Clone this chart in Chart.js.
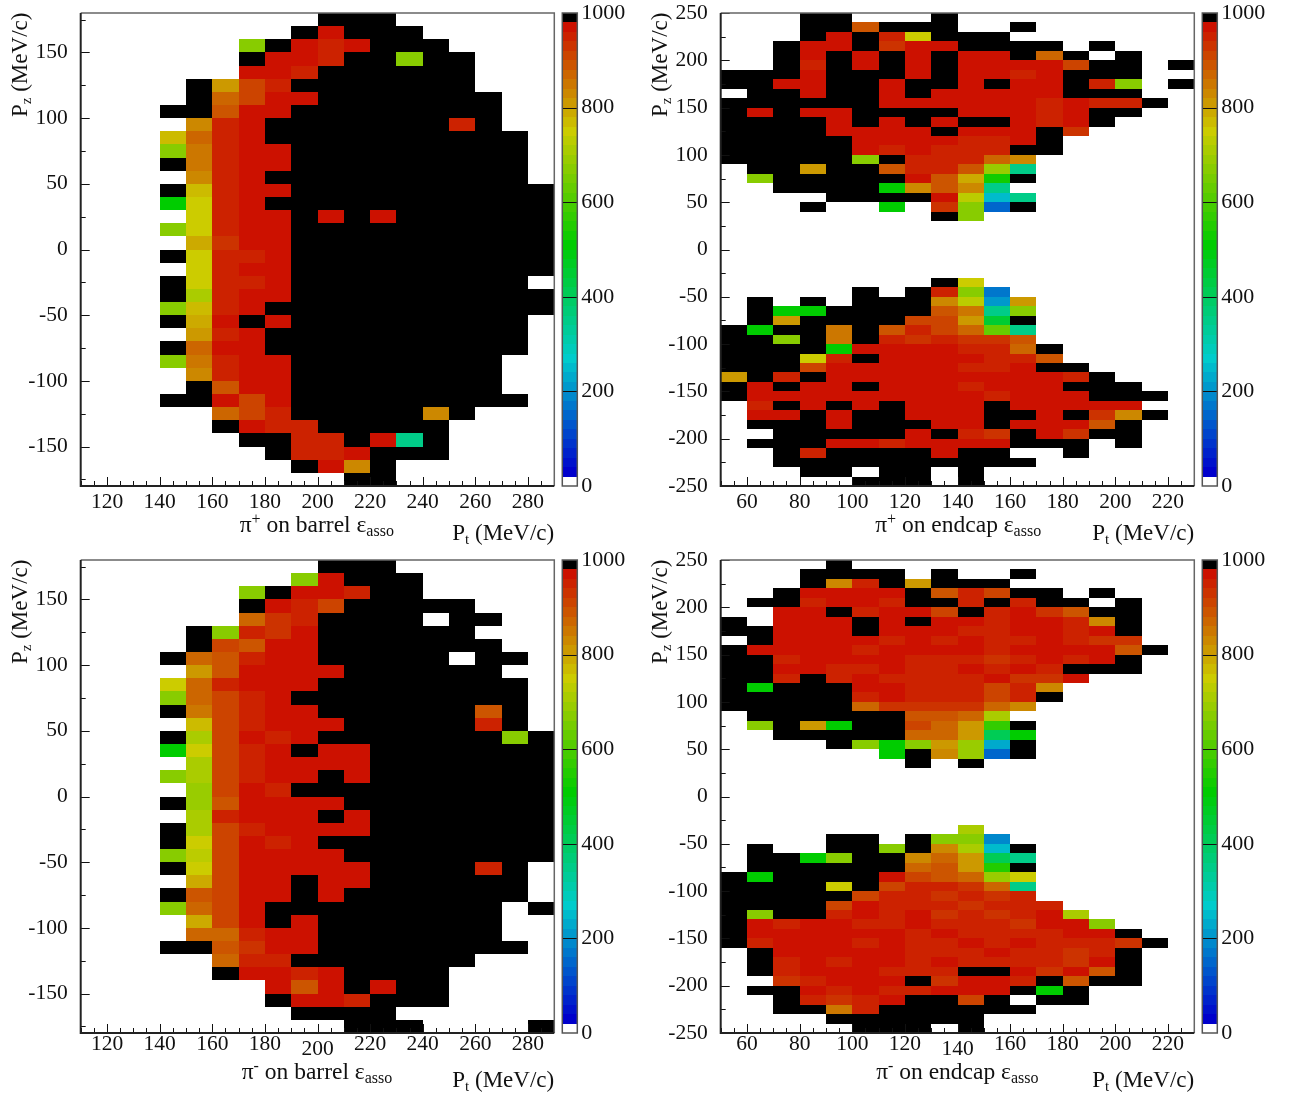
<!DOCTYPE html>
<html>
<head>
<meta charset="utf-8">
<title>Pion association efficiency</title>
<script src="https://cdn.jsdelivr.net/npm/chart.js@4/dist/chart.umd.js"></script>
<style>
    html, body { margin: 0; padding: 0; background: #fff; overflow: hidden; }
    canvas { position: absolute; }
</style>
</head>
<body>
<canvas id="pi-plus-barrel" width="645" height="548" style="left:0;top:0"></canvas>
<canvas id="pi-plus-endcap" width="650" height="548" style="left:640px;top:0"></canvas>
<canvas id="pi-minus-barrel" width="645" height="548" style="left:0;top:547px"></canvas>
<canvas id="pi-minus-endcap" width="650" height="548" style="left:640px;top:547px"></canvas>
<script>
const _ = null;
const K = 1000;

// x bin edges start here, bins are 10 MeV/c wide. rows go from top (high Pz) to bottom
const barrelPtStart = 110;
const barrelPzTop = 180;
const endcapPtStart = 50;
const endcapPzTop = 250;
const barrelPtTicks = [120, 140, 160, 180, 200, 220, 240, 260, 280];
const endcapPtTicks = [60, 80, 100, 120, 140, 160, 180, 200, 220];
const zTickValues = [0, 200, 400, 600, 800, 1000];

const piPlusBarrel = [
    [_,_,_,_,_,_,_,_,_,K,K,K,_,_,_,_,_,_],
    [_,_,_,_,_,_,_,_,K,970,K,K,K,_,_,_,_,_],
    [_,_,_,_,_,_,670,K,970,950,970,K,K,K,_,_,_,_],
    [_,_,_,_,_,_,K,970,970,950,K,K,670,K,K,_,_,_],
    [_,_,_,_,_,_,970,970,950,K,K,K,K,K,K,_,_,_],
    [_,_,_,_,K,810,910,950,K,K,K,K,K,K,K,_,_,_],
    [_,_,_,_,K,870,910,970,970,K,K,K,K,K,K,K,_,_],
    [_,_,_,K,K,890,970,970,K,K,K,K,K,K,K,K,_,_],
    [_,_,_,_,830,950,970,K,K,K,K,K,K,K,950,K,_,_],
    [_,_,_,770,870,950,970,K,K,K,K,K,K,K,K,K,K,_],
    [_,_,_,670,850,950,970,970,K,K,K,K,K,K,K,K,K,_],
    [_,_,_,K,850,950,970,970,K,K,K,K,K,K,K,K,K,_],
    [_,_,_,_,830,950,970,K,K,K,K,K,K,K,K,K,K,_],
    [_,_,_,K,770,950,970,970,K,K,K,K,K,K,K,K,K,K],
    [_,_,_,510,750,950,970,K,K,K,K,K,K,K,K,K,K,K],
    [_,_,_,_,750,950,970,970,K,970,K,970,K,K,K,K,K,K],
    [_,_,_,670,750,950,970,970,K,K,K,K,K,K,K,K,K,K],
    [_,_,_,_,790,930,970,970,K,K,K,K,K,K,K,K,K,K],
    [_,_,_,K,750,950,950,970,K,K,K,K,K,K,K,K,K,K],
    [_,_,_,_,750,950,970,970,K,K,K,K,K,K,K,K,K,K],
    [_,_,_,K,750,950,950,970,K,K,K,K,K,K,K,K,K,_],
    [_,_,_,K,710,950,970,970,K,K,K,K,K,K,K,K,K,K],
    [_,_,_,670,770,950,970,K,K,K,K,K,K,K,K,K,K,K],
    [_,_,_,K,790,970,K,970,K,K,K,K,K,K,K,K,K,_],
    [_,_,_,_,810,950,970,K,K,K,K,K,K,K,K,K,K,_],
    [_,_,_,K,870,970,970,K,K,K,K,K,K,K,K,K,K,_],
    [_,_,_,670,850,950,970,970,K,K,K,K,K,K,K,K,_,_],
    [_,_,_,_,830,950,970,970,K,K,K,K,K,K,K,K,_,_],
    [_,_,_,_,K,890,970,970,K,K,K,K,K,K,K,K,_,_],
    [_,_,_,K,K,970,910,970,K,K,K,K,K,K,K,K,K,_],
    [_,_,_,_,_,870,910,950,K,K,K,K,K,830,K,_,_,_],
    [_,_,_,_,_,K,970,950,950,K,K,K,K,K,_,_,_,_],
    [_,_,_,_,_,_,K,K,950,950,K,970,350,K,_,_,_,_],
    [_,_,_,_,_,_,_,K,950,950,970,K,K,K,_,_,_,_],
    [_,_,_,_,_,_,_,_,K,970,830,K,_,_,_,_,_,_],
    [_,_,_,_,_,_,_,_,_,_,K,K,_,_,_,_,_,_]
];

const piMinusBarrel = [
    [_,_,_,_,_,_,_,_,_,K,K,K,_,_,_,_,_,_],
    [_,_,_,_,_,_,_,_,670,970,K,K,K,_,_,_,_,_],
    [_,_,_,_,_,_,670,K,970,970,950,K,K,_,_,_,_,_],
    [_,_,_,_,_,_,K,970,950,910,K,K,K,K,K,_,_,_],
    [_,_,_,_,_,_,870,930,950,K,K,K,K,_,K,K,_,_],
    [_,_,_,_,K,670,950,930,970,K,K,K,K,K,K,_,_,_],
    [_,_,_,_,K,910,890,970,970,K,K,K,K,K,K,K,_,_],
    [_,_,_,K,870,890,950,970,970,K,K,K,K,K,_,K,K,_],
    [_,_,_,_,810,890,970,970,970,970,K,K,K,K,K,K,_,_],
    [_,_,_,750,870,950,970,970,970,K,K,K,K,K,K,K,K,_],
    [_,_,_,670,870,910,950,970,K,K,K,K,K,K,K,K,K,_],
    [_,_,_,K,850,910,950,970,970,K,K,K,K,K,K,890,K,_],
    [_,_,_,_,770,910,950,970,970,970,K,K,K,K,K,950,K,_],
    [_,_,_,K,710,910,970,950,970,K,K,K,K,K,K,K,670,K],
    [_,_,_,510,750,910,950,970,K,970,970,K,K,K,K,K,K,K],
    [_,_,_,_,710,910,950,970,970,970,970,K,K,K,K,K,K,K],
    [_,_,_,670,710,910,950,970,970,K,970,K,K,K,K,K,K,K],
    [_,_,_,_,690,910,970,950,K,K,K,K,K,K,K,K,K,K],
    [_,_,_,K,690,890,970,970,970,970,K,K,K,K,K,K,K,K],
    [_,_,_,_,710,950,970,970,970,K,970,K,K,K,K,K,K,K],
    [_,_,_,K,710,910,950,970,970,970,970,K,K,K,K,K,K,K],
    [_,_,_,K,750,910,970,950,970,K,K,K,K,K,K,K,K,K],
    [_,_,_,670,730,910,970,970,970,970,K,K,K,K,K,K,K,K],
    [_,_,_,K,750,910,970,970,970,970,970,K,K,K,K,950,K,_],
    [_,_,_,_,790,910,970,970,K,970,970,K,K,K,K,K,K,_],
    [_,_,_,K,890,910,970,970,K,970,K,K,K,K,K,K,K,_],
    [_,_,_,670,870,910,970,K,K,K,K,K,K,K,K,K,_,K],
    [_,_,_,_,790,910,970,K,970,K,K,K,K,K,K,K,_,_],
    [_,_,_,_,870,870,950,970,970,K,K,K,K,K,K,K,_,_],
    [_,_,_,K,K,890,930,970,970,K,K,K,K,K,K,K,K,_],
    [_,_,_,_,_,870,950,950,K,K,K,K,K,K,K,_,_,_],
    [_,_,_,_,_,K,970,970,950,970,K,K,K,K,_,_,_,_],
    [_,_,_,_,_,_,_,970,890,970,K,970,K,K,_,_,_,_],
    [_,_,_,_,_,_,_,K,970,970,950,K,K,K,_,_,_,_],
    [_,_,_,_,_,_,_,_,K,K,K,K,_,_,_,_,_,_],
    [_,_,_,_,_,_,_,_,_,_,K,K,K,_,_,_,_,K]
];

const piPlusEndcap = [
    [_,_,_,K,K,_,_,_,K,_,_,_,_,_,_,_,_,_],
    [_,_,_,K,K,890,K,K,K,_,_,K,_,_,_,_,_,_],
    [_,_,_,K,970,K,950,750,K,K,K,_,_,_,_,_,_,_],
    [_,_,K,970,970,K,930,970,970,K,K,K,K,_,K,_,_,_],
    [_,_,K,970,K,970,K,970,K,970,970,K,870,K,_,K,_,_],
    [_,_,K,950,K,970,K,970,K,970,970,970,970,910,K,K,_,K],
    [K,K,K,970,K,K,K,970,K,970,970,950,970,K,K,K,_,_],
    [K,K,970,970,K,K,970,K,K,970,K,970,970,K,950,670,_,K],
    [_,K,K,970,K,K,970,K,970,970,970,970,970,K,K,K,_,_],
    [K,K,K,K,K,K,970,970,970,970,970,970,950,970,950,950,K,_],
    [K,970,K,970,970,K,K,K,K,970,970,970,950,970,K,K,_,_],
    [K,K,K,K,970,K,970,K,970,K,K,970,950,970,K,_,_,_],
    [K,K,K,K,970,970,970,970,K,970,970,970,K,930,_,_,_,_],
    [K,K,K,K,K,970,970,970,970,950,950,970,K,_,_,_,_,_],
    [K,K,K,K,K,970,950,970,950,950,950,K,K,_,_,_,_,_],
    [K,K,K,K,K,670,K,950,950,950,870,830,_,_,_,_,_,_],
    [_,K,K,810,K,K,890,950,950,890,690,350,_,_,_,_,_,_],
    [_,670,K,K,K,K,K,970,890,790,530,K,_,_,_,_,_,_],
    [_,_,K,K,K,K,510,830,890,830,350,_,_,_,_,_,_,_],
    [_,_,_,_,K,K,K,K,970,730,250,350,_,_,_,_,_,_],
    [_,_,_,K,_,_,510,_,930,670,150,K,_,_,_,_,_,_],
    [_,_,_,_,_,_,_,_,K,670,_,_,_,_,_,_,_,_],
    [_,_,_,_,_,_,_,_,_,_,_,_,_,_,_,_,_,_],
    [_,_,_,_,_,_,_,_,_,_,_,_,_,_,_,_,_,_],
    [_,_,_,_,_,_,_,_,_,_,_,_,_,_,_,_,_,_],
    [_,_,_,_,_,_,_,_,_,_,_,_,_,_,_,_,_,_],
    [_,_,_,_,_,_,_,_,_,_,_,_,_,_,_,_,_,_],
    [_,_,_,_,_,_,_,_,_,_,_,_,_,_,_,_,_,_],
    [_,_,_,_,_,_,_,_,K,750,_,_,_,_,_,_,_,_],
    [_,_,_,_,_,K,_,K,950,670,170,_,_,_,_,_,_,_],
    [_,K,_,K,_,K,K,K,830,730,210,810,_,_,_,_,_,_],
    [_,K,510,510,K,K,K,K,890,850,350,670,_,_,_,_,_,_],
    [_,K,810,K,K,K,K,910,910,810,450,K,_,_,_,_,_,_],
    [K,510,K,K,850,K,890,950,910,870,630,350,_,_,_,_,_,_],
    [K,K,670,K,850,K,950,930,950,930,930,890,_,_,_,_,_,_],
    [K,K,K,K,510,970,970,970,970,950,950,870,K,_,_,_,_,_],
    [K,K,K,750,950,K,970,970,970,970,950,950,890,_,_,_,_,_],
    [K,K,K,910,970,970,970,970,970,950,950,970,K,K,_,_,_,_],
    [810,K,950,K,970,970,970,970,970,970,970,970,970,950,K,_,_,_],
    [K,970,K,970,970,K,970,970,970,950,970,970,970,K,K,K,_,_],
    [K,970,970,970,970,970,970,970,970,970,950,970,970,970,K,K,K,_],
    [_,950,K,970,K,970,K,970,970,970,K,970,970,970,970,970,_,_],
    [_,970,970,K,970,K,K,970,970,970,K,K,970,K,930,830,K,_],
    [_,K,K,K,970,K,K,K,970,970,K,970,970,970,890,K,_,_],
    [_,_,K,K,K,K,K,970,K,950,930,K,970,930,K,K,_,_],
    [_,K,K,K,970,970,950,970,970,970,970,K,K,K,_,K,_,_],
    [_,_,K,950,K,K,K,K,970,K,K,_,_,K,_,_,_,_],
    [_,_,K,K,K,K,K,K,K,K,K,K,_,_,_,_,_,_],
    [_,_,_,K,K,_,K,K,_,K,_,_,_,_,_,_,_,_],
    [_,_,_,_,_,K,K,K,_,K,_,_,_,_,_,_,_,_]
];

const piMinusEndcap = [
    [_,_,_,_,K,_,_,_,_,_,_,_,_,_,_,_,_,_],
    [_,_,_,K,K,K,K,_,K,_,_,K,_,_,_,_,_,_],
    [_,_,_,K,830,950,K,810,K,K,K,_,_,_,_,_,_,_],
    [_,_,K,970,970,970,970,K,890,950,910,K,K,_,K,_,_,_],
    [_,K,K,950,970,970,950,K,K,950,K,950,K,K,_,K,_,_],
    [_,_,970,970,K,950,970,970,910,K,950,970,930,890,K,K,_,_],
    [K,_,970,970,970,K,970,K,970,970,950,970,970,950,830,K,_,_],
    [K,K,970,970,970,K,970,970,970,950,950,970,970,950,970,K,_,_],
    [_,K,970,970,970,970,950,970,950,970,950,950,970,950,930,930,_,_],
    [K,970,970,970,970,950,970,970,970,970,950,970,970,970,970,890,K,_],
    [K,K,950,970,970,970,970,950,950,950,930,950,970,950,970,K,_,_],
    [K,K,970,970,950,950,970,950,950,970,950,970,950,K,K,K,_,_],
    [K,K,950,K,950,970,950,950,950,950,970,930,930,970,_,_,_,_],
    [K,510,K,K,K,970,970,950,950,950,910,950,830,_,_,_,_,_],
    [K,K,K,K,K,950,970,950,950,950,910,950,K,_,_,_,_,_],
    [K,K,K,K,K,870,930,930,930,930,870,830,_,_,_,_,_,_],
    [_,K,K,K,K,K,K,890,890,870,710,_,_,_,_,_,_,_],
    [_,670,K,810,510,K,K,910,870,810,570,K,_,_,_,_,_,_],
    [_,_,K,K,K,K,K,870,870,810,410,510,_,_,_,_,_,_],
    [_,_,_,_,K,670,510,670,810,690,230,K,_,_,_,_,_,_],
    [_,_,_,_,_,_,510,K,830,690,150,K,_,_,_,_,_,_],
    [_,_,_,_,_,_,_,K,_,K,_,_,_,_,_,_,_,_],
    [_,_,_,_,_,_,_,_,_,_,_,_,_,_,_,_,_,_],
    [_,_,_,_,_,_,_,_,_,_,_,_,_,_,_,_,_,_],
    [_,_,_,_,_,_,_,_,_,_,_,_,_,_,_,_,_,_],
    [_,_,_,_,_,_,_,_,_,_,_,_,_,_,_,_,_,_],
    [_,_,_,_,_,_,_,_,_,_,_,_,_,_,_,_,_,_],
    [_,_,_,_,_,_,_,_,_,_,_,_,_,_,_,_,_,_],
    [_,_,_,_,_,_,_,_,_,710,_,_,_,_,_,_,_,_],
    [_,_,_,_,K,K,_,K,670,670,190,_,_,_,_,_,_,_],
    [_,K,_,_,K,K,670,K,830,710,250,K,_,_,_,_,_,_],
    [_,K,K,510,670,K,K,830,870,810,410,350,_,_,_,_,_,_],
    [_,K,K,K,K,K,K,870,890,810,550,K,_,_,_,_,_,_],
    [K,510,K,K,K,K,970,910,890,870,690,750,_,_,_,_,_,_],
    [K,K,K,K,750,K,910,950,950,930,870,350,_,_,_,_,_,_],
    [K,K,K,K,K,910,950,950,930,950,930,950,_,_,_,_,_,_],
    [K,K,K,K,910,970,950,950,950,930,950,950,950,_,_,_,_,_],
    [K,670,K,K,950,970,950,970,930,950,930,950,970,710,_,_,_,_],
    [K,970,950,970,970,950,950,970,950,950,950,930,970,970,670,_,_,_],
    [K,970,970,970,970,970,970,950,970,950,950,950,950,970,970,K,_,_],
    [K,950,970,970,970,950,970,950,950,970,950,970,950,950,950,930,K,_],
    [_,K,970,970,970,970,970,950,950,950,970,950,950,930,950,K,_,_],
    [_,K,950,970,950,970,970,950,970,950,950,950,950,930,970,K,_,_],
    [_,K,950,970,970,970,950,950,950,K,K,970,930,970,890,K,_,_],
    [_,_,930,950,970,970,970,K,930,970,970,950,K,890,K,K,_,_],
    [_,K,K,970,950,970,950,950,970,970,970,K,510,K,_,_,_,_],
    [_,_,K,950,930,950,970,K,K,910,K,_,K,K,_,_,_,_],
    [_,_,K,K,850,950,K,K,K,K,K,K,_,_,_,_,_,_],
    [_,_,_,_,K,K,K,K,K,K,_,_,_,_,_,_,_,_],
    [_,_,_,_,_,K,K,K,_,K,_,_,_,_,_,_,_,_]
];

const SERIF = '"Liberation Serif"';
const BIN = 10;
const Z_BIN = 20;

// ROOT style palette: blue, cyan, green, yellow, red, with black on the top bin
function cellColor(v) {
    if (v >= 980) return '#000000';
    if (v < 20) return '#ffffff';
    var i = Math.floor((v - 20) / Z_BIN);
    var step = 204 / 12;
    var r = 0, g = 0, b = 0;
    if (i < 12) { g = i * step; b = 204; }
    else if (i < 24) { g = 204; b = 204 - (i - 12) * step; }
    else if (i < 36) { r = (i - 24) * step; g = 204; }
    else { r = 204; g = 204 - (i - 36) * step; }
    return `rgb(${Math.round(r)},${Math.round(g)},${Math.round(b)})`;
}

function buildCells(rows, ptStart, pzTop) {
    var cells = [];
    rows.forEach(function (row, j) {
        row.forEach(function (v, k) {
            if (v !== null) {
                cells.push({ x: ptStart + k * BIN + BIN / 2, y: pzTop - j * BIN - BIN / 2, v: v });
            }
        });
    });
    return cells;
}

// text with sub and superscripts, drawn one piece after the other
function drawRuns(ctx, x, y, runs) {
    ctx.textAlign = 'left';
    ctx.textBaseline = 'alphabetic';
    ctx.fillStyle = '#111';
    runs.forEach(function (run) {
        ctx.font = `${run.size}px ${SERIF}`;
        ctx.fillText(run.text, x, y + (run.dy || 0));
        x += ctx.measureText(run.text).width;
    });
}

const heatmapPlugin = {
    id: 'heatmap',
    beforeDatasetsDraw(chart) {
        var ctx = chart.ctx;
        var xs = chart.scales.x, ys = chart.scales.y;
        ctx.save();
        chart.data.datasets[0].data.forEach(function (c) {
            var x0 = Math.round(xs.getPixelForValue(c.x - BIN / 2));
            var x1 = Math.round(xs.getPixelForValue(c.x + BIN / 2));
            var y0 = Math.round(ys.getPixelForValue(c.y + BIN / 2));
            var y1 = Math.round(ys.getPixelForValue(c.y - BIN / 2));
            ctx.fillStyle = cellColor(c.v);
            ctx.fillRect(x0, y0, x1 - x0, y1 - y0);
        });
        ctx.restore();
    },
    afterDraw(chart) {
        var ctx = chart.ctx;
        var opts = chart.options.plugins.heatmap;
        var area = chart.chartArea;
        var xs = chart.scales.x, ys = chart.scales.y, zs = chart.scales.zAxis;
        var barLeft = area.right + 8, barWidth = 15;
        ctx.save();

        // colour bar, one box per 20 units
        for (var z = 0; z < 1000; z += Z_BIN) {
            var top = Math.round(zs.getPixelForValue(z + Z_BIN));
            var bottom = Math.round(zs.getPixelForValue(z));
            ctx.fillStyle = cellColor(z + Z_BIN / 2);
            ctx.fillRect(barLeft, top, barWidth, bottom - top);
        }
        ctx.strokeStyle = '#111';
        ctx.lineWidth = 1;
        zTickValues.slice(1, -1).forEach(function (z) {
            var p = Math.round(zs.getPixelForValue(z)) + 0.5;
            ctx.beginPath();
            ctx.moveTo(barLeft, p);
            ctx.lineTo(barLeft + barWidth, p);
            ctx.stroke();
        });
        ctx.strokeStyle = '#555';
        ctx.lineWidth = 1.5;
        ctx.strokeRect(barLeft, area.top, barWidth, area.bottom - area.top);

        // inward ticks: long on the labelled values, short on the others
        ctx.strokeStyle = '#111';
        ctx.lineWidth = 1;
        for (var pt = xs.min; pt <= xs.max; pt += 5) {
            var px = Math.round(xs.getPixelForValue(pt)) + 0.5;
            ctx.beginPath();
            ctx.moveTo(px, area.bottom);
            ctx.lineTo(px, area.bottom - (pt % 20 === 0 ? 9 : 5));
            ctx.stroke();
        }
        for (var pz = Math.ceil(ys.min / 25) * 25; pz <= ys.max; pz += 25) {
            var py = Math.round(ys.getPixelForValue(pz)) + 0.5;
            ctx.beginPath();
            ctx.moveTo(area.left, py);
            ctx.lineTo(area.left + (pz % 50 === 0 ? 9 : 5), py);
            ctx.stroke();
        }

        // frame: top and right lighter than the axes
        ctx.strokeStyle = '#666';
        ctx.lineWidth = 1.5;
        ctx.beginPath();
        ctx.moveTo(area.left, area.top);
        ctx.lineTo(area.right, area.top);
        ctx.lineTo(area.right, area.bottom);
        ctx.stroke();
        ctx.strokeStyle = '#222';
        ctx.lineWidth = 2;
        ctx.beginPath();
        ctx.moveTo(area.left, area.top);
        ctx.lineTo(area.left, area.bottom);
        ctx.lineTo(area.right, area.bottom);
        ctx.stroke();

        // tick label that sits lower than its neighbours in the original
        if (opts.droppedLabel) {
            ctx.font = `21.5px ${SERIF}`;
            ctx.fillStyle = '#111';
            ctx.textAlign = 'center';
            ctx.textBaseline = 'alphabetic';
            ctx.fillText(String(opts.droppedLabel), xs.getPixelForValue(opts.droppedLabel), area.bottom + 22);
        }

        // axis titles
        drawRuns(ctx, area.right - 102, area.bottom + 54, [
            { text: 'P', size: 23 }, { text: 't', size: 15, dy: 4 }, { text: ' (MeV/c)', size: 23 }
        ]);
        drawRuns(ctx, area.left + opts.titleX, area.bottom + 46, opts.title);
        ctx.translate(27, area.top + 104);
        ctx.rotate(-Math.PI / 2);
        drawRuns(ctx, 0, 0, [
            { text: 'P', size: 23 }, { text: 'z', size: 15, dy: 4 }, { text: ' (MeV/c)', size: 23 }
        ]);
        ctx.restore();
    }
};

function piTitle(sign, detector) {
    return [
        { text: '\u03c0', size: 23.5 }, { text: sign, size: 16, dy: -8 },
        { text: ` on ${detector} \u03b5`, size: 23.5 }, { text: 'asso', size: 16, dy: 4 }
    ];
}

function makePanel(id, rows, ptStart, pzTop, ptTicks, tickPad, titleText, titleX, droppedLabel) {
    var axisFont = { family: SERIF, size: 21.5 };
    new Chart(document.getElementById(id), {
        type: 'scatter',
        data: { datasets: [{ data: buildCells(rows, ptStart, pzTop), pointRadius: 0, pointHoverRadius: 0 }] },
        options: {
            responsive: false,
            animation: false,
            devicePixelRatio: 1,
            layout: { padding: { top: 13, left: 0, right: 0, bottom: 0 } },
            events: [],
            plugins: {
                legend: { display: false },
                tooltip: { enabled: false },
                heatmap: { title: titleText, titleX: titleX, droppedLabel: droppedLabel }
            },
            scales: {
                x: {
                    type: 'linear', min: ptStart, max: ptStart + 180,
                    grid: { display: false, drawTicks: false }, border: { display: false },
                    afterBuildTicks: s => { s.ticks = ptTicks.map(v => ({ value: v })); },
                    ticks: {
                        maxRotation: 0, autoSkip: false, padding: tickPad,
                        color: '#111', font: axisFont,
                        callback: v => (v === droppedLabel ? '' : String(v))
                    },
                    afterFit: s => { s.height = 62; s.paddingLeft = 0; s.paddingRight = 0; }
                },
                y: {
                    type: 'linear', min: -pzTop, max: pzTop,
                    grid: { display: false, drawTicks: false }, border: { display: false },
                    ticks: {
                        stepSize: 50, includeBounds: false, autoSkip: false, padding: 13,
                        color: '#111', font: axisFont, callback: v => String(v)
                    },
                    afterFit: s => { s.width = 80.7; s.paddingTop = 0; s.paddingBottom = 0; }
                },
                zAxis: {
                    axis: 'y', type: 'linear', position: 'right', min: 0, max: 1000,
                    grid: { display: false, drawTicks: false }, border: { display: false },
                    afterBuildTicks: s => { s.ticks = zTickValues.map(v => ({ value: v })); },
                    ticks: {
                        autoSkip: false, padding: 27, color: '#111',
                        font: { family: SERIF, size: 22 }, callback: v => String(v)
                    },
                    afterFit: s => { s.width = s.chart.width - 554.3; s.paddingTop = 0; s.paddingBottom = 0; }
                }
            }
        },
        plugins: [heatmapPlugin]
    });
}

makePanel('pi-plus-barrel', piPlusBarrel, barrelPtStart, barrelPzTop, barrelPtTicks, 3, piTitle('+', 'barrel'), 159);
makePanel('pi-plus-endcap', piPlusEndcap, endcapPtStart, endcapPzTop, endcapPtTicks, 3, piTitle('+', 'endcap'), 154.5);
makePanel('pi-minus-barrel', piMinusBarrel, barrelPtStart, barrelPzTop, barrelPtTicks, -2, piTitle('-', 'barrel'), 161, 200);
makePanel('pi-minus-endcap', piMinusEndcap, endcapPtStart, endcapPzTop, endcapPtTicks, -2, piTitle('-', 'endcap'), 155.5, 140);
</script>
</body>
</html>
